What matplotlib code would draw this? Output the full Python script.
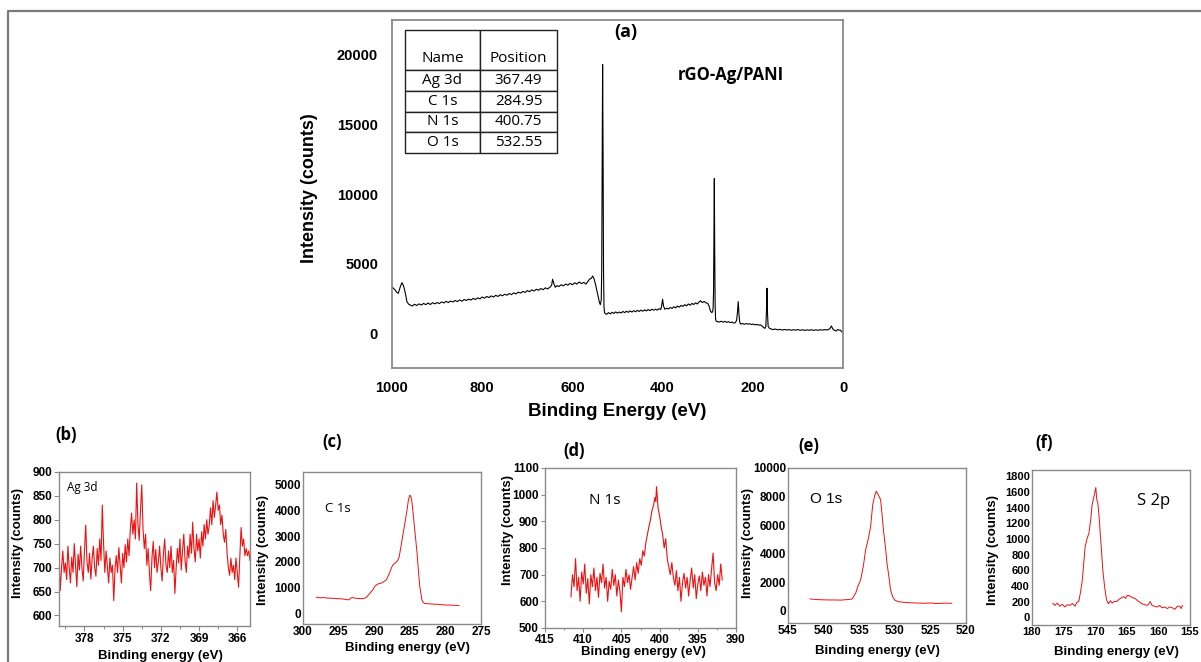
import matplotlib
matplotlib.use("Agg")
import matplotlib.pyplot as plt
from matplotlib.lines import Line2D
from matplotlib.ticker import MultipleLocator

W, H = 1201, 662

# ---------------- survey spectrum (a) ----------------
survey_ev = [1000, 996, 993, 990, 986, 982, 978, 975, 973, 970, 967, 963, 960,
             955, 950, 945, 940, 935, 930, 925, 920, 915, 910, 905, 900, 895, 890,
             885, 880, 875, 870, 865, 860, 855, 850, 845, 840, 835, 830, 825, 820,
             815, 810, 805, 800, 795, 790, 785, 780, 775, 770, 765, 760, 755, 750,
             745, 740, 735, 730, 725, 720, 715, 710, 705, 700, 695, 690, 685, 680,
             675, 670, 665, 660, 655, 650, 646, 644, 641, 638, 634, 630, 625, 620,
             615, 610, 605, 600, 595, 590, 585, 580, 575, 570, 566, 562, 558, 555,
             552, 549, 546, 543, 540, 538, 536, 535, 534, 533, 532, 531, 530, 529,
             527, 524, 520, 516, 512, 508, 504, 500, 496, 492, 488, 484, 480, 476,
             472, 468, 464, 460, 456, 452, 448, 444, 440, 436, 432, 428, 424, 420,
             416, 412, 408, 404, 402, 400, 398, 395, 391, 387, 383, 379, 375, 371,
             367, 363, 359, 355, 351, 347, 343, 339, 335, 331, 327, 323, 319, 316,
             312, 308, 304, 300, 297, 294, 291, 289, 288, 287, 286, 285.3, 284.5,
             283.5, 282.5, 281, 278, 274, 270, 266, 262, 258, 254, 250, 246, 242,
             239, 236, 234, 232.3, 230.5, 229, 227, 223, 219, 215, 211, 207, 203,
             199, 195, 191, 187, 183, 179, 176, 173, 171, 169.5, 168.5, 167.5, 166,
             163, 159, 155, 150, 145, 140, 135, 130, 125, 120, 115, 110, 105, 100,
             95, 90, 85, 80, 75, 70, 65, 60, 55, 50, 45, 40, 35, 31, 28, 25.7, 23,
             20, 18, 15, 12, 9, 6, 3, 0]
survey_counts = [3340, 3200, 3100, 2950, 2870, 3300, 3630, 3450, 3230, 2800, 2270, 2080, 2030,
                 1950, 2080, 1990, 2110, 2020, 2140, 2050, 2170, 2060, 2190, 2110, 2200, 2130, 2250,
                 2170, 2290, 2200, 2310, 2240, 2350, 2270, 2390, 2300, 2420, 2350, 2450, 2380, 2500,
                 2420, 2540, 2470, 2600, 2520, 2640, 2560, 2680, 2600, 2720, 2640, 2760, 2690, 2800,
                 2730, 2850, 2770, 2900, 2820, 2950, 2880, 3000, 2930, 3060, 2980, 3110, 3030, 3160,
                 3080, 3210, 3120, 3260, 3180, 3300, 3450, 3870, 3550, 3300, 3420, 3350, 3480, 3400,
                 3530, 3450, 3580, 3480, 3620, 3530, 3680, 3560, 3650, 3530, 3700, 3880, 3950, 4110,
                 3900, 3550, 3100, 2630, 2200, 2050, 2400, 4500, 12500, 19300, 13000, 4500, 2000, 1500,
                 1400, 1360, 1480, 1390, 1500, 1420, 1530, 1440, 1520, 1450, 1560, 1480, 1580, 1500,
                 1600, 1520, 1620, 1540, 1640, 1560, 1660, 1580, 1680, 1600, 1700, 1620, 1720, 1650,
                 1730, 1660, 1760, 1700, 2000, 2440, 1950, 1720, 1800, 1740, 1850, 1780, 1900, 1820,
                 1950, 1870, 2000, 1920, 2050, 1960, 2100, 2010, 2140, 2060, 2180, 2100, 2250, 2330,
                 2200, 2280, 2180, 2150, 1950, 1600, 1480, 1550, 1800, 3000, 7500, 11100, 6000,
                 2000, 1000, 850, 830, 800, 860, 790, 850, 780, 830, 760, 800, 720,
                 760, 900, 1500, 2270, 1300, 800, 660, 700, 640, 690, 650, 680, 620,
                 660, 600, 630, 580, 600, 500, 400, 350, 500, 1800, 3230, 1500, 500,
                 350, 300, 260, 300, 240, 280, 220, 270, 230, 260, 210, 250, 220, 260,
                 210, 250, 200, 240, 210, 250, 200, 240, 210, 250, 220, 260, 230, 280, 380, 520, 330,
                 220, 190, 160, 260, 230, 220, 120, 0]

table_names = ["Ag 3d", "C 1s", "N 1s", "O 1s"]
table_positions = ["367.49", "284.95", "400.75", "532.55"]

# ---------------- Ag 3d (b) ----------------
ag_ev = [380.0, 379.9, 379.8, 379.7, 379.6, 379.5, 379.4, 379.3, 379.2, 379.1,
         379.0, 378.9, 378.8, 378.7, 378.6, 378.5, 378.4, 378.3, 378.2, 378.1,
         378.0, 377.9, 377.8, 377.7, 377.6, 377.5, 377.4, 377.3, 377.2, 377.1,
         377.0, 376.9, 376.8, 376.7, 376.6, 376.5, 376.4, 376.3, 376.2, 376.1,
         376.0, 375.9, 375.8, 375.7, 375.6, 375.5, 375.4, 375.3, 375.2, 375.1,
         375.0, 374.9, 374.8, 374.7, 374.6, 374.5, 374.4, 374.3, 374.2, 374.1,
         374.0, 373.9, 373.8, 373.7, 373.6, 373.5, 373.4, 373.3, 373.2, 373.1,
         373.0, 372.9, 372.8, 372.7, 372.6, 372.5, 372.4, 372.3, 372.2, 372.1,
         372.0, 371.9, 371.8, 371.7, 371.6, 371.5, 371.4, 371.3, 371.2, 371.1,
         371.0, 370.9, 370.8, 370.7, 370.6, 370.5, 370.4, 370.3, 370.2, 370.1,
         370.0, 369.9, 369.8, 369.7, 369.6, 369.5, 369.4, 369.3, 369.2, 369.1,
         369.0, 368.9, 368.8, 368.7, 368.6, 368.5, 368.4, 368.3, 368.2, 368.1,
         368.0, 367.9, 367.8, 367.7, 367.6, 367.5, 367.4, 367.3, 367.2, 367.1,
         367.0, 366.9, 366.8, 366.7, 366.6, 366.5, 366.4, 366.3, 366.2, 366.1,
         366.0, 365.9, 365.8, 365.7, 365.6, 365.5, 365.4, 365.3, 365.2, 365.1,
         365.0]
ag_counts = [720, 652, 700, 735, 690, 710, 675, 745, 700, 668,
             722, 690, 750, 705, 660, 728, 695, 745, 700, 672,
             735, 789, 712, 690, 730, 676, 718, 745, 700, 682,
             740, 705, 760, 715, 831, 750, 690, 735, 700, 668,
             720, 690, 705, 631, 698, 725, 690, 742, 705, 668,
             730, 700, 748, 712, 760, 725, 780, 814, 770, 800,
             760, 877, 790, 757, 820, 873, 780, 740, 770, 705,
             740, 690, 652, 720, 755, 700, 738, 690, 712, 745,
             700, 672, 728, 760, 705, 690, 735, 700, 745, 690,
             715, 646, 700, 740, 710, 760, 695, 735, 770, 715,
             690, 745, 720, 770, 730, 795, 740, 712, 770, 735,
             760, 720, 775, 745, 790, 760, 800, 770, 789, 825,
             790, 840, 805, 830, 858, 820, 831, 790, 810, 770,
             753, 780, 730, 700, 684, 720, 690, 705, 675, 720,
             690, 659, 720, 784, 745, 760, 725, 740, 725, 735,
             715]

# ---------------- C 1s (c) ----------------
c_ev = [298.1, 297.6, 297.1, 296.6, 296.1, 295.6, 295.1, 294.6, 294.1, 293.6,
        293.1, 292.8, 292.4, 292.0, 291.6, 291.2, 290.9, 290.6, 290.2, 289.9,
        289.7, 289.4, 289.0, 288.6, 288.3, 287.9, 287.6, 287.4, 287.1, 286.9,
        286.7, 286.5, 286.3, 286.0, 285.7, 285.4, 285.2, 285.0, 284.85, 284.7,
        284.5, 284.3, 284.0, 283.8, 283.6, 283.3, 283.1, 282.9, 282.5, 282.0,
        281.5, 281.2, 280.5, 280.0, 279.5, 279.0, 278.5, 278.1]
c_counts = [624, 600, 610, 590, 585, 575, 565, 560, 540, 520,
            620, 590, 580, 570, 566, 600, 680, 780, 910, 1050,
            1100, 1150, 1170, 1240, 1300, 1530, 1750, 1870, 1950, 1990,
            2060, 2190, 2500, 3000, 3490, 4000, 4400, 4600, 4550, 4330,
            3800, 3230, 2400, 1690, 1050, 520, 420, 380, 370, 360,
            350, 350, 330, 320, 320, 310, 305, 300]

# ---------------- N 1s (d) ----------------
n_ev = [411.6, 411.4, 411.2, 411.0, 410.8, 410.6, 410.4, 410.2, 410.0, 409.8,
        409.6, 409.4, 409.2, 409.0, 408.8, 408.6, 408.4, 408.2, 408.0, 407.8,
        407.6, 407.4, 407.2, 407.0, 406.8, 406.6, 406.4, 406.2, 406.0, 405.8,
        405.6, 405.4, 405.2, 405.0, 404.8, 404.6, 404.4, 404.2, 404.0, 403.8,
        403.6, 403.4, 403.2, 403.0, 402.8, 402.6, 402.4, 402.2, 402.0, 401.8,
        401.6, 401.4, 401.2, 401.0, 400.8, 400.6, 400.5, 400.4, 400.2, 400.0,
        399.8, 399.6, 399.4, 399.2, 399.0, 398.8, 398.6, 398.4, 398.2, 398.0,
        397.8, 397.6, 397.4, 397.2, 397.0, 396.8, 396.6, 396.4, 396.2, 396.0,
        395.8, 395.6, 395.4, 395.2, 395.0, 394.8, 394.6, 394.4, 394.2, 394.0,
        393.8, 393.6, 393.4, 393.2, 393.0, 392.8, 392.6, 392.4, 392.2, 392.0,
        391.8]
n_counts = [617, 700, 655, 760, 640, 690, 600, 710, 665, 740,
            630, 685, 590, 700, 655, 725, 640, 690, 615, 705,
            670, 740, 650, 690, 600, 675, 645, 720, 660, 700,
            620, 680, 640, 561, 690, 655, 720, 670, 700, 645,
            690, 730, 680, 745, 705, 760, 735, 790, 770, 820,
            850, 880, 905, 940, 960, 990, 975, 1030, 950, 921,
            880, 850, 800, 835, 760, 730, 700, 745, 690, 660,
            715, 640, 690, 600, 670, 705, 650, 690, 620, 680,
            725, 650, 700, 610, 665, 695, 640, 710, 660, 690,
            620, 700, 655, 720, 781, 670, 640, 700, 660, 740,
            680]

# ---------------- O 1s (e) ----------------
o_ev = [541.9, 541.0, 540.0, 539.0, 538.4, 537.5, 537.0, 536.5, 536.0, 535.5,
        535.2, 534.8, 534.4, 534.1, 533.7, 533.4, 533.1, 532.8, 532.6, 532.4,
        532.2, 532.0, 531.8, 531.6, 531.3, 531.1, 530.8, 530.6, 530.3, 530.0,
        529.5, 529.0, 528.0, 527.0, 526.0, 525.0, 524.0, 523.0, 522.0]
o_counts = [842, 800, 780, 770, 772, 760, 790, 800, 840, 1240,
            1700, 2170, 3200, 4270, 5100, 5900, 7440, 8100, 8380, 8200,
            8000, 7790, 6800, 5690, 4400, 3350, 2300, 1470, 1000, 760,
            650, 620, 580, 560, 540, 560, 520, 550, 540]

# ---------------- S 2p (f) ----------------
s_ev = [176.7, 176.4, 176.0, 175.6, 175.2, 174.8, 174.4, 174.0, 173.6, 173.2,
        172.9, 172.6, 172.3, 172.1, 171.9, 171.6, 171.3, 171.0, 170.7, 170.5,
        170.2, 169.9, 169.75, 169.6, 169.4, 169.2, 169.0, 168.8, 168.5, 168.2,
        167.9, 167.6, 167.3, 167.0, 166.6, 166.2, 165.8, 165.5, 165.2, 164.9,
        164.5, 164.1, 163.7, 163.3, 162.9, 162.6, 162.2, 161.8, 161.5, 161.3,
        161.0, 160.6, 160.2, 159.8, 159.4, 159.0, 158.6, 158.2, 157.8, 157.4,
        157.0, 156.6, 156.4, 156.2]
s_counts = [178, 150, 180, 140, 165, 130, 160, 150, 175, 140,
            190, 200, 330, 433, 600, 900, 1000, 1070, 1250, 1430,
            1540, 1656, 1500, 1470, 1300, 1070, 850, 603, 380, 220,
            170, 210, 180, 200, 200, 230, 250, 263, 240, 280,
            270, 250, 240, 210, 190, 170, 160, 150, 170, 200,
            150, 140, 130, 150, 120, 130, 110, 130, 120, 100,
            140, 140, 110, 150]

TICK_FONT = "Liberation Sans"
LABEL_FONT = "Liberation Sans"
CAL_FONT = "Open Sans"
RED = "#ee1111"
SPINE = "#8a8a8a"

fig = plt.figure(figsize=(W / 100, H / 100), dpi=100)


def px_axes(l, t, r, b):
    return fig.add_axes([l / W, 1 - b / H, (r - l) / W, (b - t) / H])


def fig_text(x, y, s, **kw):
    return fig.text(x / W, 1 - y / H, s, **kw)


# outer frame (top and left edge)
fig.add_artist(Line2D([8 / W, 8 / W, 1.0], [0.0, 1 - 11 / H, 1 - 11 / H],
                      transform=fig.transFigure, color="#7a7a7a", lw=1.6))

# ================= (a) survey =================
ax = px_axes(392, 20, 843, 368)
ax.plot(survey_ev, survey_counts, color="black", lw=0.8)
ax.set_xlim(1000, 0)
ax.set_ylim(-2500, 22500)
ax.set_xticks([1000, 800, 600, 400, 200, 0])
ax.set_yticks([0, 5000, 10000, 15000, 20000])
ax.tick_params(length=0, labelsize=10.5)
ax.tick_params(axis="y", pad=10)
ax.tick_params(axis="x", pad=9)
for lab in ax.get_xticklabels() + ax.get_yticklabels():
    lab.set_fontfamily(TICK_FONT)
    lab.set_fontweight("bold")
for sp in ax.spines.values():
    sp.set_color(SPINE)
    sp.set_linewidth(1.3)
fig_text(310, 188, "Intensity (counts)", rotation=90, ha="center", va="center",
         fontsize=13, fontweight="bold", family=LABEL_FONT)
fig_text(617, 412, "Binding Energy (eV)", ha="center", va="center",
         fontsize=13.5, fontweight="bold", family=LABEL_FONT)
fig_text(626, 32, "(a)", ha="center", va="center", fontsize=13,
         fontweight="bold", family=CAL_FONT)
fig_text(731, 75, "rGO-Ag/PANI", ha="center", va="center", fontsize=12,
         fontweight="bold", family=CAL_FONT)

# table of peak positions
tab_ax = px_axes(405, 30, 557, 153)
tab_ax.axis("off")
cell_rows = [[n, p] for n, p in zip(table_names, table_positions)]
tab = tab_ax.table(cellText=cell_rows, colLabels=["\nName", "\nPosition"],
                   cellLoc="center", bbox=[0, 0, 1, 1])
tab.auto_set_font_size(False)
for (r, c), cell in tab.get_celld().items():
    cell.set_height(40 if r == 0 else 20.6)
    cell.set_width(75 if c == 0 else 77)
    cell.set_edgecolor("#222222")
    cell.set_linewidth(1.0)
    cell.get_text().set_fontsize(11)
    cell.get_text().set_fontfamily(CAL_FONT)
    cell.get_text().set_fontweight("medium")


# ================= small panels =================
def small_panel(box, ev, counts, xlim, ylim, xticks, yticks, tick_len,
                xminor=None, lw=0.8, labelsize=8.5):
    a = px_axes(*box)
    a.plot(ev, counts, color=RED, lw=lw)
    a.set_xlim(*xlim)
    a.set_ylim(*ylim)
    a.set_xticks(xticks)
    a.set_yticks(yticks)
    a.tick_params(length=tick_len, width=0.8, color=SPINE, labelsize=labelsize, pad=1.5)
    if xminor:
        a.xaxis.set_minor_locator(MultipleLocator(xminor))
        a.tick_params(which="minor", length=tick_len * 0.6, width=0.7, color=SPINE)
    for lab in a.get_xticklabels() + a.get_yticklabels():
        lab.set_fontfamily(TICK_FONT)
        lab.set_fontweight("bold")
    for sp in a.spines.values():
        sp.set_color(SPINE)
        sp.set_linewidth(1.0)
    return a


# (b) Ag 3d
small_panel((59, 472, 250, 626), ag_ev, ag_counts, (380, 365), (578, 900),
            [378, 375, 372, 369, 366], [600, 650, 700, 750, 800, 850, 900], 3.5,
            xminor=1.5, lw=0.8)
fig_text(18, 543, "Intensity (counts)", rotation=90, ha="center", va="center",
         fontsize=9.5, fontweight="bold", family=LABEL_FONT)
fig_text(160, 656, "Binding energy (eV)", ha="center", va="center",
         fontsize=9.5, fontweight="bold", family=LABEL_FONT)
fig_text(66, 435, "(b)", ha="center", va="center", fontsize=12,
         fontweight="bold", family=CAL_FONT)
fig_text(67, 487, "Ag 3d", ha="left", va="center", fontsize=8.5, family=CAL_FONT)

# (c) C 1s
small_panel((303, 472, 481, 624), c_ev, c_counts, (300, 275), (-420, 5500),
            [300, 295, 290, 285, 280, 275], [0, 1000, 2000, 3000, 4000, 5000], 0,
            lw=0.7)
fig_text(263, 550, "Intensity (counts)", rotation=90, ha="center", va="center",
         fontsize=9.5, fontweight="bold", family=LABEL_FONT)
fig_text(407, 648, "Binding energy (eV)", ha="center", va="center",
         fontsize=9.5, fontweight="bold", family=LABEL_FONT)
fig_text(332, 442, "(c)", ha="center", va="center", fontsize=12,
         fontweight="bold", family=CAL_FONT)
fig_text(325, 509, "C 1s", ha="left", va="center", fontsize=9.5, family=CAL_FONT)

# (d) N 1s
small_panel((545, 468, 736, 628), n_ev, n_counts, (415, 390), (500, 1100),
            [415, 410, 405, 400, 395, 390], [500, 600, 700, 800, 900, 1000, 1100], 3,
            xminor=2.5, lw=0.8)
fig_text(508, 530, "Intensity (counts)", rotation=90, ha="center", va="center",
         fontsize=9.5, fontweight="bold", family=LABEL_FONT)
fig_text(643, 652, "Binding energy (eV)", ha="center", va="center",
         fontsize=9.5, fontweight="bold", family=LABEL_FONT)
fig_text(574, 451, "(d)", ha="center", va="center", fontsize=12,
         fontweight="bold", family=CAL_FONT)
fig_text(589, 501, "N 1s", ha="left", va="center", fontsize=11, family=CAL_FONT)

# (e) O 1s
small_panel((788, 468, 966, 623), o_ev, o_counts, (545, 520), (-840, 10000),
            [545, 540, 535, 530, 525, 520], [0, 2000, 4000, 6000, 8000, 10000], 0,
            lw=0.7)
fig_text(748, 543, "Intensity (counts)", rotation=90, ha="center", va="center",
         fontsize=9.5, fontweight="bold", family=LABEL_FONT)
fig_text(877, 651, "Binding energy (eV)", ha="center", va="center",
         fontsize=9.5, fontweight="bold", family=LABEL_FONT)
fig_text(809, 446, "(e)", ha="center", va="center", fontsize=12,
         fontweight="bold", family=CAL_FONT)
fig_text(810, 499, "O 1s", ha="left", va="center", fontsize=11, family=LABEL_FONT)

# (f) S 2p
small_panel((1032, 470, 1190, 625), s_ev, s_counts, (180, 155), (-100, 1880),
            [180, 175, 170, 165, 160, 155],
            [0, 200, 400, 600, 800, 1000, 1200, 1400, 1600, 1800], 0, lw=0.7,
            labelsize=8)
fig_text(993, 550, "Intensity (counts)", rotation=90, ha="center", va="center",
         fontsize=9.5, fontweight="bold", family=LABEL_FONT)
fig_text(1116, 652, "Binding energy (eV)", ha="center", va="center",
         fontsize=9.5, fontweight="bold", family=LABEL_FONT)
fig_text(1044, 443, "(f)", ha="center", va="center", fontsize=12,
         fontweight="bold", family=CAL_FONT)
fig_text(1137, 501, "S 2p", ha="left", va="center", fontsize=12, family=CAL_FONT)

fig.savefig("out.png", dpi=100)
